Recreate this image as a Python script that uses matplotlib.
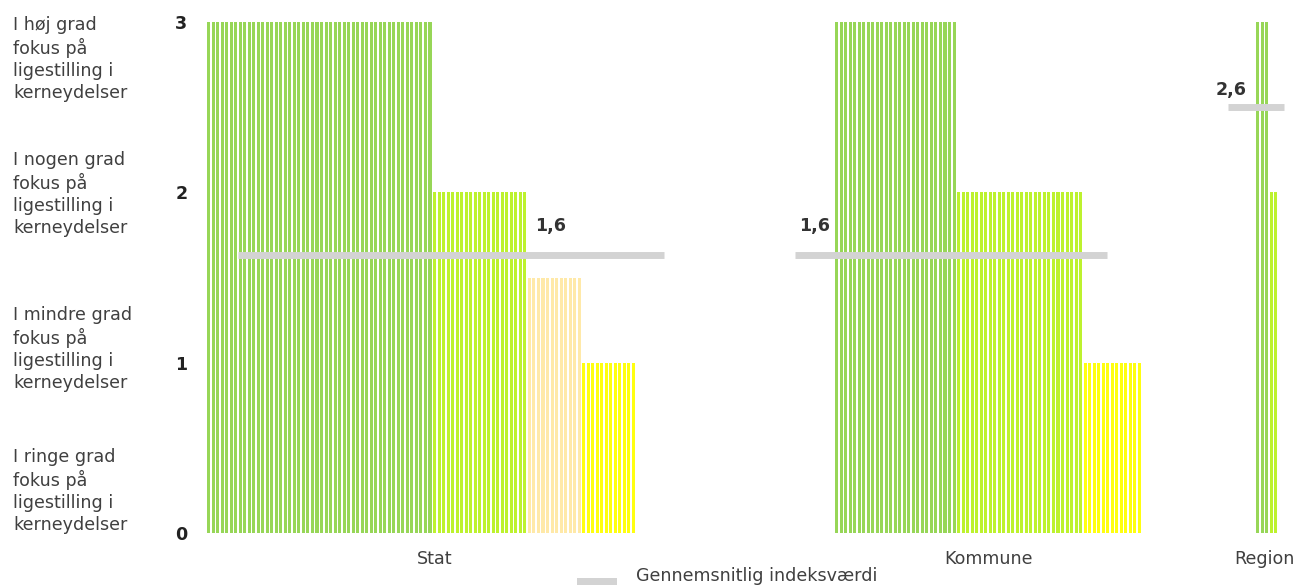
import matplotlib
matplotlib.use("Agg")
import matplotlib.pyplot as plt
from matplotlib.patches import Rectangle

# ---------------- data ----------------
groups = ["Stat", "Kommune", "Region"]
stat_values = [3] * 50 + [2] * 21 + [1.5] * 12 + [1] * 12
kommune_values = [3] * 27 + [2] * 28 + [1] * 13
region_values = [3] * 3 + [2] * 2
avg_values = [1.635, 1.635, 2.5]
avg_labels = ["1,6", "1,6", "2,6"]
y_ticks = [0, 1, 2, 3]
y_tick_labels = ["0", "1", "2", "3"]
level_texts = [
    "I høj grad\nfokus på\nligestilling i\nkerneydelser",
    "I nogen grad\nfokus på\nligestilling i\nkerneydelser",
    "I mindre grad\nfokus på\nligestilling i\nkerneydelser",
    "I ringe grad\nfokus på\nligestilling i\nkerneydelser",
]
legend_label = "Gennemsnitlig indeksværdi"

# ---------------- style / layout ----------------
level_colors = {3: "#97d657", 2: "#bdf22e", 1.5: "#ffe9a8", 1: "#ffff10"}
avg_color = "#d3d3d3"
text_color = "#404040"
FS = 12.6

W, H = 1295, 585
fig = plt.figure(figsize=(W / 100, H / 100), dpi=100)
L, R, B, T = 200, 1290, 533, 22
ax = fig.add_axes([L / W, 1 - B / H, (R - L) / W, (B - T) / H])

pitch = 4.52          # px per bar slot
x0px = 207            # left edge of first bar
bw = 0.67             # bar width in slot units


def px2x(px):
    return (px - x0px) / pitch


ax.set_xlim(px2x(L), px2x(R))
ax.set_ylim(0, 3)

group_starts = [px2x(207), px2x(835), px2x(1256)]
group_values = [stat_values, kommune_values, region_values]
for start, vals in zip(group_starts, group_values):
    xs = [start + i for i in range(len(vals))]
    ax.bar(xs, vals, width=bw, align="edge",
           color=[level_colors[v] for v in vals], linewidth=0, zorder=2)

# average lines
line_extents = [(px2x(238), px2x(664)), (px2x(795), px2x(1107)), (px2x(1228), px2x(1284))]
for (a, b), v in zip(line_extents, avg_values):
    ax.hlines(v, a, b, colors=avg_color, linewidth=5.0, capstyle="butt", zorder=3)

# average labels
label_pos = [(px2x(551), 1.773), (px2x(815), 1.773), (px2x(1231), 2.571)]
for (lx, ly), txt in zip(label_pos, avg_labels):
    ax.text(lx, ly, txt, ha="center", va="baseline", fontsize=FS,
            fontweight="bold", color="#333333", zorder=4)

# axes styling
for s in ax.spines.values():
    s.set_visible(False)
ax.set_xticks([px2x(435), px2x(988), px2x(1264)])
ax.set_xticklabels(groups, fontsize=FS, color=text_color)
ax.tick_params(axis="x", length=0, pad=12)
ax.set_yticks(y_ticks)
ax.set_yticklabels(y_tick_labels, fontsize=FS, fontweight="bold", color="#222222")
ax.tick_params(axis="y", length=0, pad=9)

# left descriptive texts (positioned by the baseline of their last line)
last_baselines = [98, 233, 388, 530]
for txt, bl in zip(level_texts, last_baselines):
    fig.text(13 / W, 1 - bl / H, txt, ha="left", va="baseline", fontsize=FS,
             color=text_color, linespacing=1.27)

# legend
fig.patches.append(Rectangle((577 / W, 0), 40 / W, 7 / H, transform=fig.transFigure,
                             facecolor=avg_color, edgecolor="none"))
fig.text(636 / W, 1 - 581 / H, legend_label, ha="left", va="baseline",
         fontsize=FS, color=text_color)

fig.savefig("out.png", dpi=100)
